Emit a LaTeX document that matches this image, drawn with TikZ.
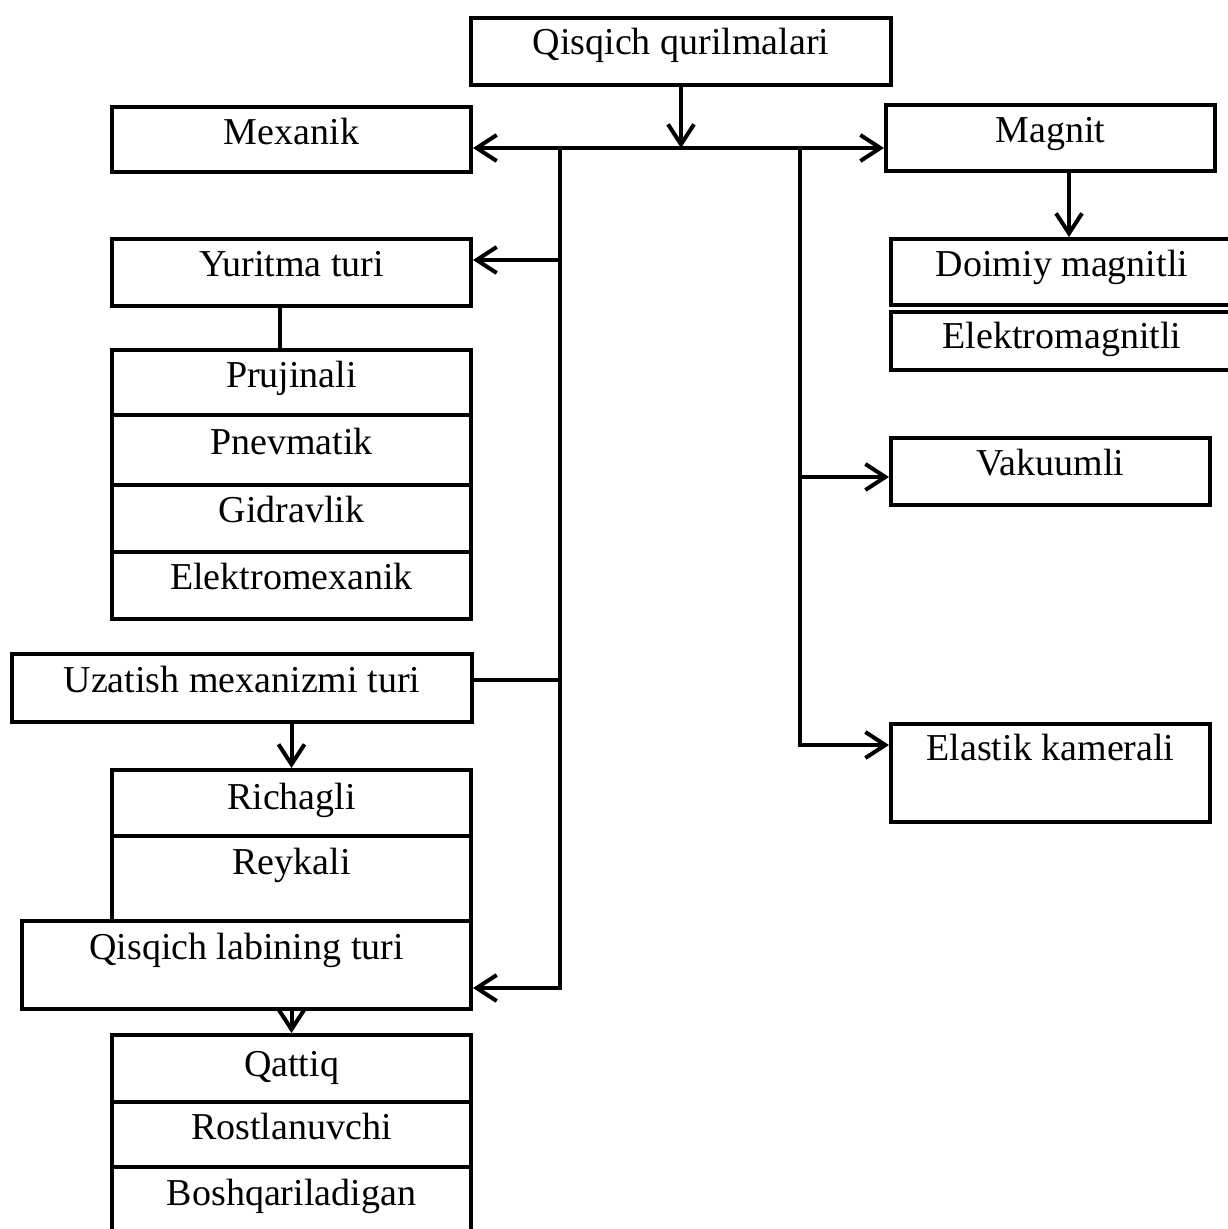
\documentclass[tikz,border=0pt]{standalone}
\usepackage{fontspec}
\setmainfont{Liberation Serif}
\usetikzlibrary{arrows.meta}

% \boxnode{name}{x1}{y1}{x2}{y2}{baseline below top}{text}
\newcommand\boxnode[7]{%
  \pgfmathsetmacro\bxw{(#4-#2)*0.5}%
  \pgfmathsetmacro\bxh{(#6)*0.5}%
  \pgfmathsetmacro\bxd{(#5-#3-#6)*0.5}%
  \node[box, minimum width=\bxw pt, text height=\bxh pt, text depth=\bxd pt] (#1) at (#2,#3) {#7};%
}

\begin{document}
\begin{tikzpicture}[x=0.5pt,y=-0.5pt,
  box/.style={draw, line width=2pt, inner sep=0pt, anchor=north west,
    font=\fontsize{19}{21}\selectfont},
  conn/.style={line width=2pt},
  arr/.style={conn, -{Straight Barb[length=10pt,width=13pt]}},
  biarr/.style={conn, {Straight Barb[length=10pt,width=13pt]}-{Straight Barb[length=10pt,width=13pt]}}
]
\useasboundingbox (0,0) rectangle (1227,1229);

% root
\boxnode{top}{469}{16}{889}{83}{37}{Qisqich qurilmalari}
% first level
\boxnode{mex}{110}{105}{469}{170}{38}{Mexanik}
\boxnode{mag}{884}{103}{1213}{169}{38}{Magnit}
% magnetic kinds
\boxnode{doi}{889}{237}{1231}{303}{38}{Doimiy magnitli}
\boxnode{ele}{889}{310}{1231}{368}{37}{Elektromagnitli}
\boxnode{vak}{889}{436}{1208}{503}{37}{Vakuumli}
\boxnode{ela}{889}{722}{1208}{820}{36}{Elastik kamerali}
% drive type
\boxnode{yur}{110}{237}{469}{304}{38}{Yuritma turi}
\boxnode{pru}{110}{348}{469}{413}{37}{Prujinali}
\boxnode{pne}{110}{413}{469}{483}{39}{Pnevmatik}
\boxnode{gid}{110}{483}{469}{550}{37}{Gidravlik}
\boxnode{emx}{110}{550}{469}{617}{37}{Elektromexanik}
% transmission mechanism
\boxnode{uza}{10}{652}{470}{720}{38}{Uzatish mexanizmi turi}
\boxnode{ric}{110}{768}{469}{834}{39}{Richagli}
\boxnode{rey}{110}{834}{469}{919}{38}{Reykali}
% jaw type
\boxnode{lab}{20}{919}{469}{1007}{38}{Qisqich labining turi}
\boxnode{qat}{110}{1033}{469}{1100}{41}{Qattiq}
\boxnode{ros}{110}{1100}{469}{1165}{37}{Rostlanuvchi}
\boxnode{bos}{110}{1165}{469}{1240}{38}{Boshqariladigan}

% junction points
\coordinate (hub) at (680,148);
\coordinate (lt) at (560,148);
\coordinate (rt) at (800,148);
\coordinate (lyur) at (560,260);
\coordinate (luza) at (560,680);
\coordinate (llab) at (560,988);
\coordinate (rvak) at (800,477);
\coordinate (rela) at (800,745);
\coordinate (mj) at (1069,0);
\coordinate (yp) at (280,0);

% connectors
\draw[arr] (top.south) -- (top.south |- hub);
\draw[biarr] (hub -| mex.east) -- (hub -| mag.west);
\draw[arr] (lt) |- (llab -| lab.east);
\draw[arr] (lyur) -- (lyur -| yur.east);
\draw[conn] (luza) -- (luza -| uza.east);
\draw[arr] (rt) |- (rela -| ela.west);
\draw[arr] (rvak) -- (rvak -| vak.west);
\draw[arr] (mag.south -| mj) -- (doi.north -| mj);
\draw[conn] (yur.south -| yp) -- (pru.north -| yp);
\draw[arr] (uza.south -| ric.north) -- (ric.north);
\draw[arr] ([yshift=2pt]lab.south -| qat.north) -- (qat.north);
\end{tikzpicture}
\end{document}
